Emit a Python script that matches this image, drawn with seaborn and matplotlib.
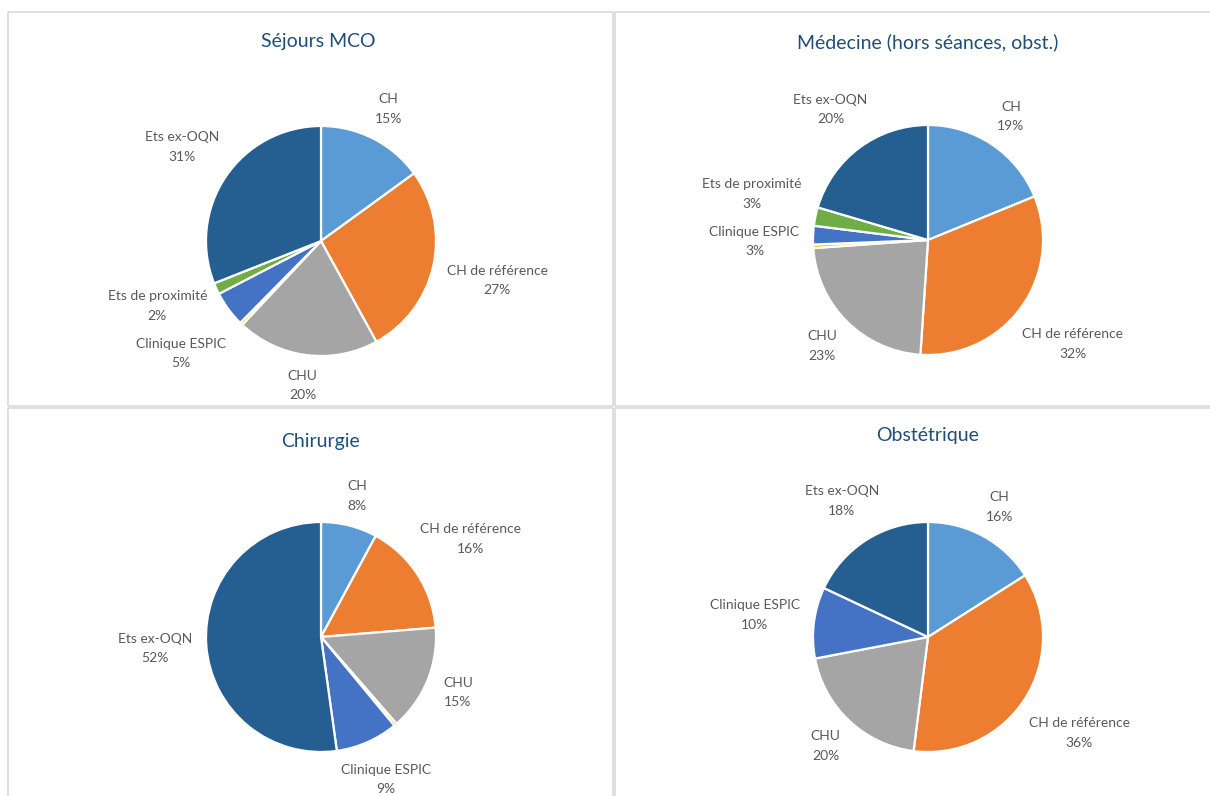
import matplotlib
matplotlib.use("Agg")
import matplotlib.pyplot as plt
import seaborn as sns
import numpy as np

# Share of hospital stays by type of establishment (in %)
categories = ["CH", "CH de référence", "CHU", "Autres", "Clinique ESPIC",
              "Ets de proximité", "Ets ex-OQN"]
sejours_mco = [15.0, 27.0, 20.0, 0.4, 5.0, 1.6, 31.0]
medecine = [18.8, 32.2, 22.8, 0.5, 2.6, 2.6, 20.4]
chirurgie = [7.9, 15.8, 14.9, 0.4, 8.8, 0.0, 52.2]
obstetrique = [16.0, 36.0, 20.0, 0.0, 10.0, 0.0, 18.0]
titles = ["Séjours MCO", "Médecine (hors séances, obst.)", "Chirurgie", "Obstétrique"]

sns.set_theme(style="white")
plt.rcParams["font.family"] = ["Lato", "DejaVu Sans"]

palette = sns.color_palette(["#5B9BD5", "#ED7D31", "#A5A5A5", "#FFC000",
                             "#4472C4", "#70AD47", "#255E91"])

W, H = 1210, 796
fig = plt.figure(figsize=(W / 100, H / 100), dpi=100)
fig.patch.set_facecolor("white")
ax = fig.add_axes([0, 0, 1, 1])

def Y(py):
    return H - py

# panel frames (pixel boxes: left, top, right, bottom)
frames = [(8, 12, 613, 406), (615, 12, 1216, 406),
          (8, 408, 613, 802), (615, 408, 1216, 802)]
for (l, t, r, b) in frames:
    ax.plot([l, r, r, l, l], [Y(t), Y(t), Y(b), Y(b), Y(t)],
            color="#D9D9D9", lw=1.2, solid_capstyle="butt", zorder=0)

centers = [(321, 241), (928, 240), (321, 637), (928, 637)]
title_pos = [(318, 42), (928, 42), (321, 442), (928, 435)]
radius = 115
gap = 13
pad = 16
datasets = [sejours_mco, medecine, chirurgie, obstetrique]

renderer = fig.canvas.get_renderer()

for data, title, (cx, cy), (tx, ty) in zip(datasets, titles, centers, title_pos):
    vals = np.array(data, dtype=float)
    keep = vals > 0
    v = vals[keep]
    names = [c for c, k in zip(categories, keep) if k]
    cols = [c for c, k in zip(palette, keep) if k]
    ax.pie(v, colors=cols, startangle=90, counterclock=False,
           center=(cx, Y(cy)), radius=radius, frame=True,
           wedgeprops=dict(edgecolor="white", linewidth=1.6))

    ax.text(tx, Y(ty), title, ha="center", va="center", fontsize=14,
            color="#1F4E79")

    total = v.sum()
    cum = np.concatenate([[0], np.cumsum(v)[:-1]])
    labels = []
    for name, val, c0 in zip(names, v, cum):
        pct = 100 * val / total
        if pct < 1:
            continue
        theta = np.deg2rad(360 * (c0 + val / 2) / total)
        ux, uy = np.sin(theta), np.cos(theta)
        t = ax.text(cx, Y(cy), f"{name}\n{pct:.0f}%", ha="center",
                    va="center", fontsize=10, color="#595959",
                    linespacing=1.75)
        bb = t.get_window_extent(renderer)
        hw, hh = bb.width / 2, bb.height / 2
        d = radius + gap + abs(ux) * hw + abs(uy) * hh
        labels.append([t, cx + d * ux, Y(cy) + d * uy, hw, hh, ux])

    # keep labels on the same side from overlapping vertically
    for side in (1, -1):
        grp = sorted([lb for lb in labels if np.sign(lb[5]) == side or
                      (lb[5] == 0 and side == 1)], key=lambda lb: lb[2])
        for _ in range(20):
            moved = False
            for a, b in zip(grp[:-1], grp[1:]):
                need = a[4] + b[4] + pad
                if b[2] - a[2] < need - 0.5 and abs(a[1] - b[1]) < a[3] + b[3]:
                    push = (need - (b[2] - a[2])) / 2
                    a[2] -= push
                    b[2] += push
                    moved = True
            if not moved:
                break
    for t, x, y, hw, hh, _ in labels:
        y = max(y, hh + 1)  # stay inside the figure
        t.set_position((x, y))

ax.set_xlim(0, W)
ax.set_ylim(0, H)
ax.set_aspect("auto")
ax.axis("off")

fig.savefig("out.png", dpi=100, facecolor="white")
